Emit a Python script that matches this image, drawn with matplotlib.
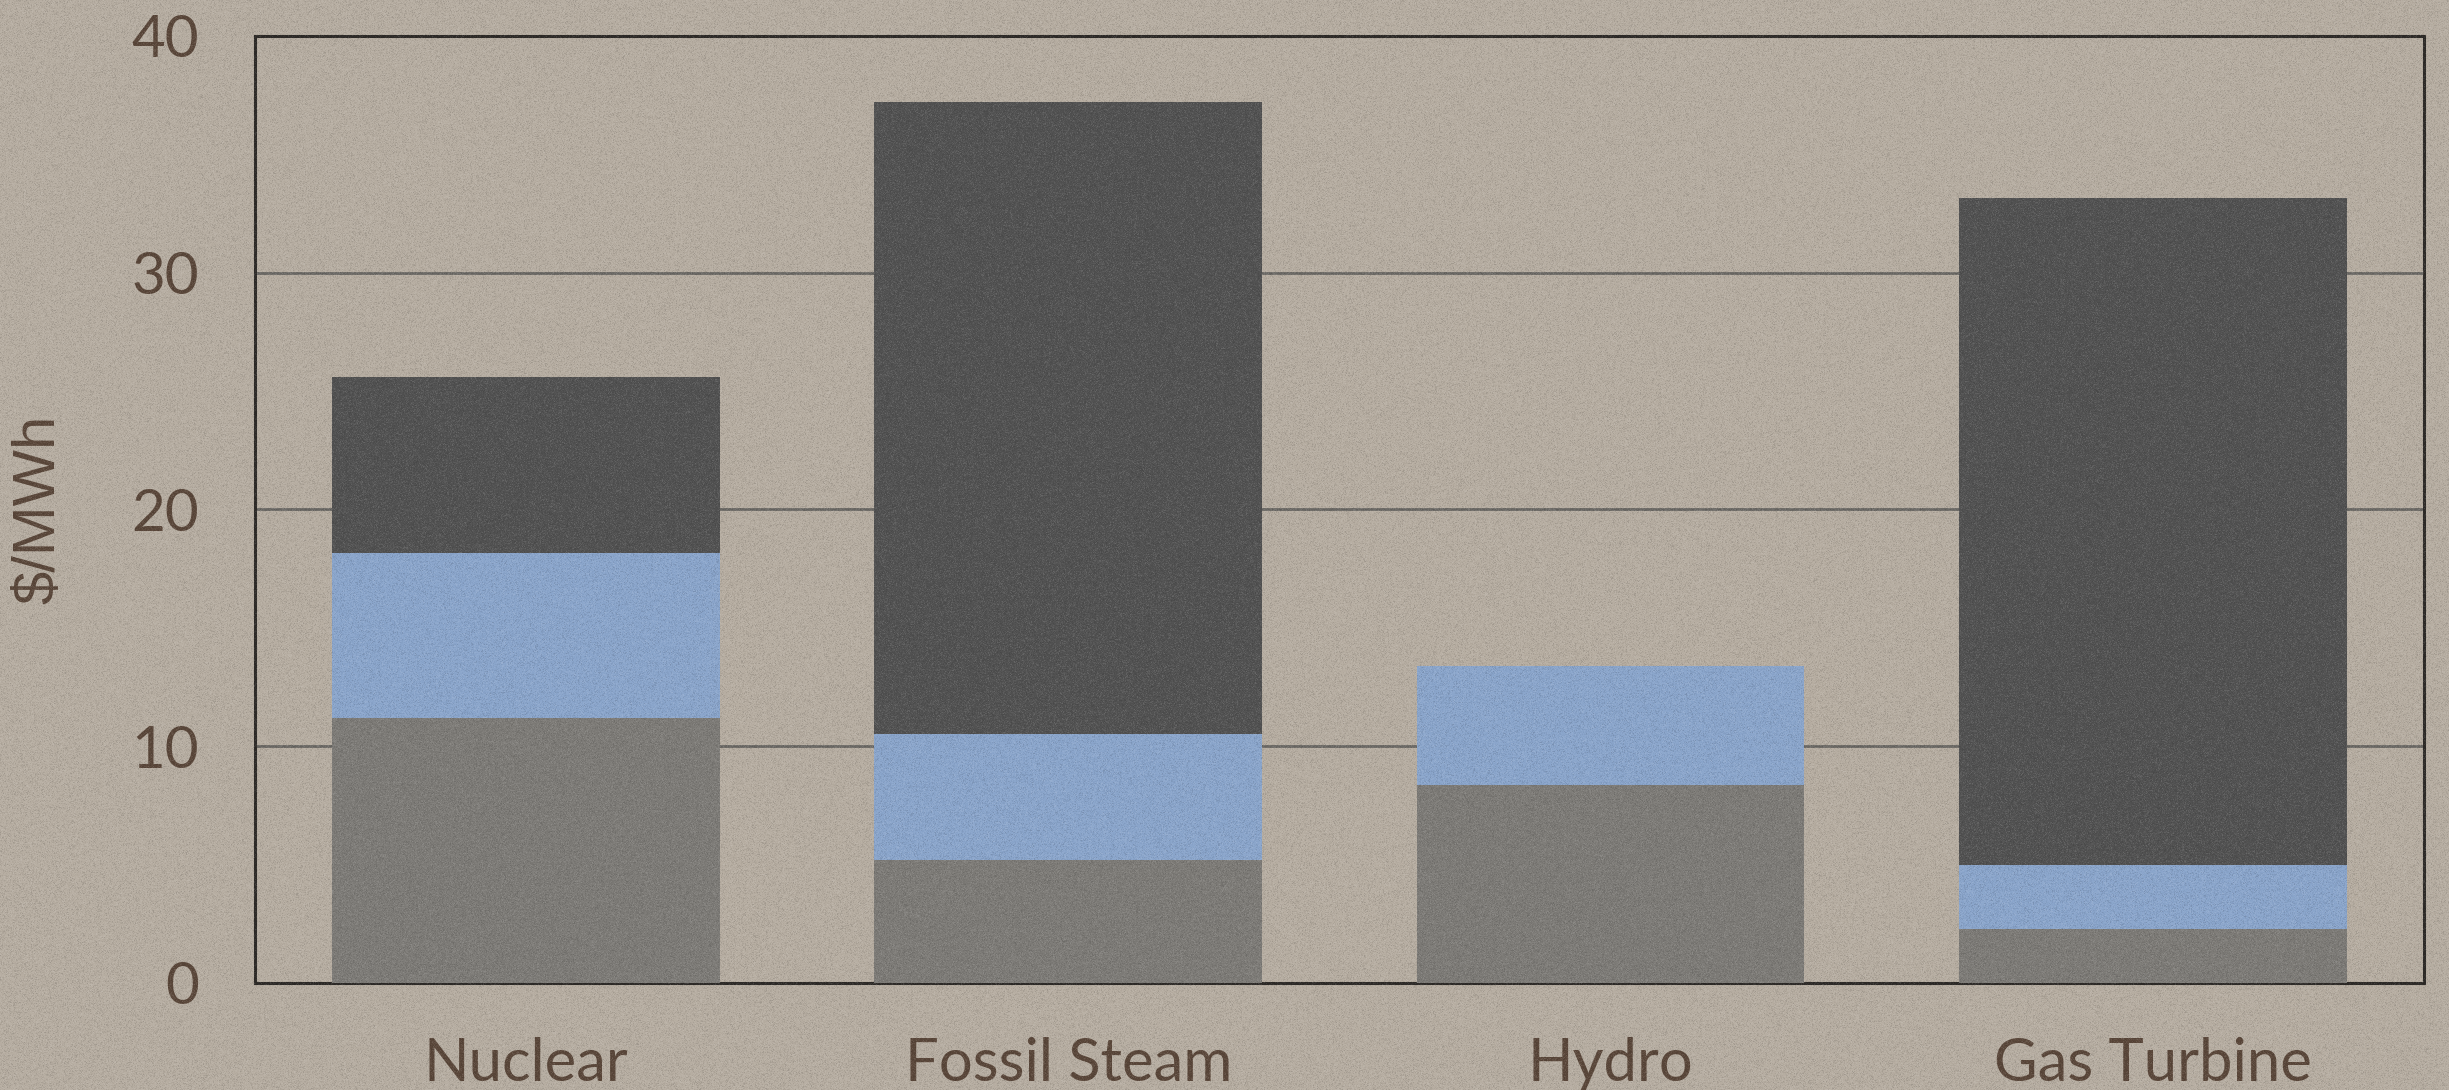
import numpy as np
import matplotlib
matplotlib.use("Agg")
import matplotlib.pyplot as plt

# cost components per plant type, $/MWh
categories = ["Nuclear", "Fossil Steam", "Hydro", "Gas Turbine"]
base_cost = [11.2, 5.2, 8.35, 2.3]
mid_cost = [6.95, 5.3, 5.05, 2.7]
top_cost = [7.45, 26.7, 0.0, 28.15]
yticks = [0, 10, 20, 30, 40]

plt.rcParams['font.family'] = ['Lato', 'DejaVu Sans']
text_color = '#5a473a'
paper = '#b6ada1'

fig = plt.figure(figsize=(24.49, 10.9), dpi=100, facecolor=paper)
ax = fig.add_axes([0.1041, 0.0982, 0.8857, 0.8688])
ax.set_facecolor('none')

x = np.arange(len(categories))
width = 0.715

bottom = np.zeros(len(categories))
for vals, color in [(base_cost, '#7d7b77'), (mid_cost, '#8aa5cb'), (top_cost, '#525252')]:
    ax.bar(x, vals, width, bottom=bottom, color=color, linewidth=0, zorder=3)
    bottom += np.array(vals)

ax.set_xlim(-0.5, 3.5)
ax.set_ylim(0, 40)
ax.set_yticks(yticks)
ax.set_xticks(x)
ax.set_xticklabels(categories)
ax.tick_params(axis='both', length=0, colors=text_color)
ax.tick_params(axis='y', labelsize=42, pad=40)
ax.tick_params(axis='x', labelsize=43, pad=39)
ax.yaxis.grid(True, color='#6a6864', linewidth=2, zorder=1)
ax.set_axisbelow(True)
for side in ['left', 'right', 'top', 'bottom']:
    ax.spines[side].set_color('#2e2b28')
    ax.spines[side].set_linewidth(2.2)
ax.set_ylabel('$/MWh', fontsize=43, color=text_color,
              family=['Liberation Sans', 'DejaVu Sans'], labelpad=47)

# grainy paper surface over the whole canvas
rng = np.random.default_rng(7)
h, w = 1090, 2449
grain = rng.normal(0.0, 1.0, (h, w)).clip(-2.5, 2.5)
rgba = np.zeros((h, w, 4))
rgba[..., :3] = (grain > 0)[..., None].astype(float)
rgba[..., 3] = np.abs(grain) * 0.05
fig.figimage(rgba, xo=0, yo=0, zorder=10)

fig.savefig('out.png', dpi=100, facecolor=paper)
